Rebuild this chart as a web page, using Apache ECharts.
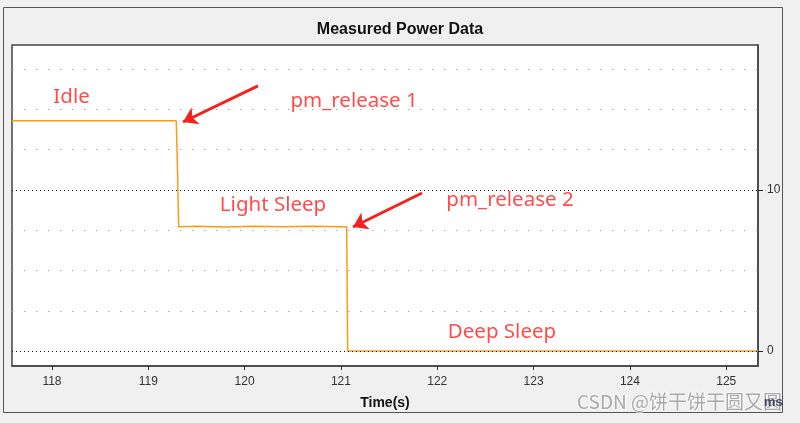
<!DOCTYPE html>
<html>
<head>
<meta charset="utf-8">
<script src="https://cdn.jsdelivr.net/npm/echarts@6/dist/echarts.min.js"></script>
<style>
html,body{margin:0;padding:0;background:#f0f0f0;}
#chart{width:800px;height:423px;}
</style>
</head>
<body>
<div id="chart"></div>
<script>
// ---- data ----
const timeS = [117.585, 119.29, 119.297, 119.305, 119.315, 119.5, 119.8, 120.1, 120.4, 120.7, 121.0, 121.06, 121.07, 125.33];
const powerVals = [14.3, 14.3, 12.8, 10.8, 7.72, 7.74, 7.70, 7.75, 7.71, 7.74, 7.72, 7.72, 0, 0];
const xTicks = [118, 119, 120, 121, 122, 123, 124, 125];
const yTicks = [0, 10];
const majorGrid = [0, 10];
const minorGrid = [2.5, 5, 7.5, 12.5, 15, 17.5];
const annoText = ['Idle', 'pm_release 1', 'Light Sleep', 'pm_release 2', 'Deep Sleep'];
const annoX = [118.203, 121.136, 120.295, 122.755, 122.672];
const annoY = [15.78, 15.53, 9.07, 9.38, 1.18];
const arrowFrom = [[120.139, 16.46], [121.842, 9.81]];
const arrowTo = [[119.360, 14.22], [121.125, 7.70]];

const chart = echarts.init(document.getElementById('chart'), null, {renderer: 'canvas'});
const line = timeS.map((t, i) => [t, powerVals[i]]);
const anno = annoText.map((s, i) => ({name: s, value: [annoX[i], annoY[i]]}));
const arrows = arrowFrom.map((a, i) => ({coords: [a, arrowTo[i]]}));

chart.setOption({
  backgroundColor: '#f0f0f0',
  animation: false,
  title: {
    text: 'Measured Power Data', left: 'center', top: 17,
    textStyle: {fontFamily: 'Liberation Sans', fontSize: 16, fontWeight: 'bold', color: '#111'}
  },
  graphic: [
    {type: 'rect', shape: {x: 3.5, y: 7.5, width: 779, height: 405}, style: {fill: 'none', stroke: '#555', lineWidth: 1}, z: -1},
    {type: 'text', left: 576, top: 391, style: {text: 'CSDN @饼干饼干圆又圆', font: '19px "Noto Sans CJK SC"', fill: 'rgba(160,160,160,0.9)', stroke: 'rgba(255,255,255,0.6)', lineWidth: 2}, z: 10},
    {type: 'text', left: 764, top: 396, style: {text: 'ms', font: 'bold 13px Liberation Sans', fill: 'rgba(20,20,60,0.75)'}, z: 11}
  ],
  grid: {
    left: 12, right: 42, top: 45, bottom: 57,
    show: true, backgroundColor: '#ffffff', borderColor: '#444', borderWidth: 1.5
  },
  xAxis: {
    type: 'value', min: 117.585, max: 125.33,
    name: 'Time(s)', nameLocation: 'middle', nameGap: 30,
    nameTextStyle: {fontFamily: 'Liberation Sans', fontSize: 14, fontWeight: 'bold', color: '#111'},
    axisLine: {show: true, onZero: false, lineStyle: {color: '#444', width: 1.5}},
    axisTick: {show: true, customValues: xTicks, length: 4, lineStyle: {color: '#333'}},
    axisLabel: {customValues: xTicks, fontFamily: 'Liberation Sans', fontSize: 12, color: '#333', margin: 10},
    splitLine: {show: false}
  },
  yAxis: {
    type: 'value', position: 'right', min: -0.93, max: 19,
    axisLine: {show: true, onZero: false, lineStyle: {color: '#444', width: 1.5}},
    axisTick: {show: true, customValues: yTicks, length: 5, lineStyle: {color: '#222'}},
    axisLabel: {customValues: yTicks, fontFamily: 'Liberation Sans', fontSize: 12, color: '#333', margin: 9},
    splitLine: {show: false}
  },
  series: [
    {
      type: 'line', data: [], z: 1, silent: true,
      markLine: {
        silent: true, symbol: 'none', label: {show: false}, animation: false,
        data: minorGrid.map(v => ({yAxis: v, lineStyle: {color: '#a3aabb', width: 1, type: [1.5, 10.5]}}))
          .concat(majorGrid.map(v => ({yAxis: v, lineStyle: {color: '#111', width: 1, type: [1, 3]}})))
      }
    },
    {
      type: 'line', data: line, z: 3, showSymbol: false, symbol: 'none',
      lineStyle: {color: '#ff9a10', width: 1.5}
    },
    {
      type: 'lines', coordinateSystem: 'cartesian2d', z: 4, data: arrows,
      symbol: ['none', 'arrow'], symbolSize: 14,
      lineStyle: {color: '#f2221e', width: 3, opacity: 1}
    },
    {
      type: 'scatter', data: anno, z: 5, symbolSize: 1,
      itemStyle: {color: 'rgba(0,0,0,0)'},
      label: {
        show: true, position: 'inside', formatter: p => p.name,
        fontFamily: 'Noto Sans', fontSize: 20.5, color: '#ff1e1e'
      }
    }
  ]
});
</script>
</body>
</html>
